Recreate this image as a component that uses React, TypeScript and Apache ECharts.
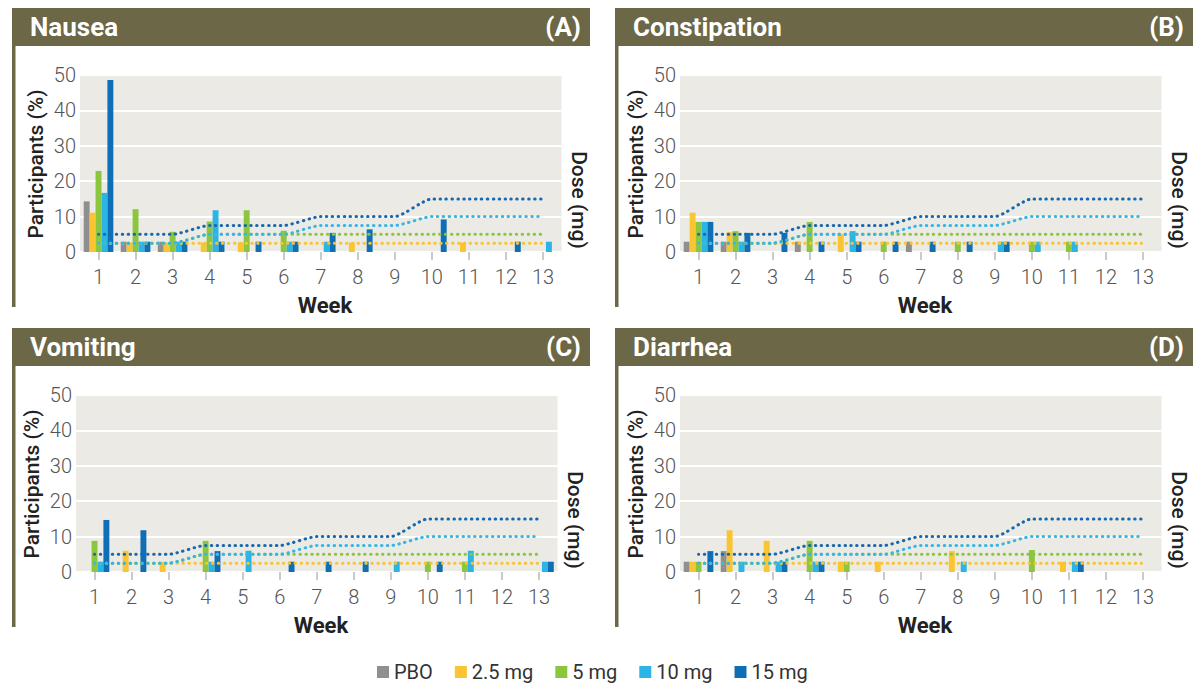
import React, { useEffect, useRef } from 'react';
import * as echarts from 'echarts';

const weeks = ['1', '2', '3', '4', '5', '6', '7', '8', '9', '10', '11', '12', '13'];
const armNames = ['PBO', '2.5 mg', '5 mg', '10 mg', '15 mg'];
const armColors = ['#8f8f8f', '#fbc531', '#8cc63f', '#2bb4e6', '#0f6fb6'];
const panelTitles = ['Nausea', 'Constipation', 'Vomiting', 'Diarrhea'];
const panelLetters = ['(A)', '(B)', '(C)', '(D)'];

// Participants (%) per week
const nauseaPbo = [14.3, 2.9, 2.9, 0, 0, 0, 0, 0, 0, 0, 0, 0, 0];
const nausea25 = [11.1, 2.7, 2.7, 2.7, 2.7, 0, 0, 2.7, 0, 0, 2.7, 0, 0];
const nausea5 = [22.9, 12.1, 5.7, 8.6, 11.8, 6.0, 0, 0, 0, 0, 0, 0, 0];
const nausea10 = [16.7, 2.9, 2.9, 11.8, 0, 2.9, 2.9, 0, 0, 0, 0, 0, 2.9];
const nausea15 = [48.6, 2.9, 2.9, 2.9, 2.9, 2.9, 5.4, 6.4, 0, 9.2, 0, 2.9, 0];

const constipationPbo = [2.9, 2.9, 0, 2.9, 0, 0, 2.9, 0, 0, 0, 0, 0, 0];
const constipation25 = [11.1, 5.6, 0, 0, 5.0, 0, 0, 0, 0, 0, 0, 0, 0];
const constipation5 = [8.5, 5.9, 0, 8.5, 0, 2.9, 0, 2.9, 0, 2.9, 2.9, 0, 0];
const constipation10 = [8.5, 2.9, 0, 0, 5.9, 0, 0, 0, 2.9, 2.9, 2.9, 0, 0];
const constipation15 = [8.5, 5.4, 5.4, 2.9, 2.9, 2.9, 2.9, 2.9, 2.9, 0, 0, 0, 0];

const vomitingPbo = [0, 0, 0, 0, 0, 0, 0, 0, 0, 0, 0, 0, 0];
const vomiting25 = [0, 6.0, 2.9, 0, 0, 0, 0, 0, 0, 0, 0, 0, 0];
const vomiting5 = [8.8, 0, 0, 8.8, 0, 0, 0, 0, 0, 2.9, 2.9, 0, 0];
const vomiting10 = [2.9, 0, 0, 2.9, 6.0, 0, 0, 0, 2.9, 0, 6.0, 0, 2.9];
const vomiting15 = [14.7, 11.8, 0, 5.9, 0, 2.9, 2.9, 2.9, 0, 2.9, 0, 0, 2.9];

const diarrheaPbo = [2.9, 5.9, 0, 0, 0, 0, 0, 0, 0, 0, 0, 0, 0];
const diarrhea25 = [2.9, 11.8, 8.8, 0, 2.9, 2.9, 0, 5.9, 0, 0, 2.9, 0, 0];
const diarrhea5 = [2.9, 0, 0, 8.8, 2.9, 0, 0, 0, 0, 6.2, 0, 0, 0];
const diarrhea10 = [0, 2.9, 2.9, 2.9, 0, 0, 0, 2.9, 0, 0, 2.9, 0, 0];
const diarrhea15 = [5.9, 0, 2.9, 2.9, 0, 0, 0, 0, 0, 0, 2.9, 0, 0];

// Dose (mg) per week for each active arm
const dose25 = [2.5, 2.5, 2.5, 2.5, 2.5, 2.5, 2.5, 2.5, 2.5, 2.5, 2.5, 2.5, 2.5];
const dose5 = [2.5, 2.5, 2.5, 5, 5, 5, 5, 5, 5, 5, 5, 5, 5];
const dose10 = [2.5, 2.5, 2.5, 5, 5, 5, 7.5, 7.5, 7.5, 10, 10, 10, 10];
const dose15 = [5, 5, 5, 7.5, 7.5, 7.5, 10, 10, 10, 15, 15, 15, 15];

const panelData = [
  [nauseaPbo, nausea25, nausea5, nausea10, nausea15],
  [constipationPbo, constipation25, constipation5, constipation10, constipation15],
  [vomitingPbo, vomiting25, vomiting5, vomiting10, vomiting15],
  [diarrheaPbo, diarrhea25, diarrhea5, diarrhea10, diarrhea15],
];
const doseData = [dose25, dose5, dose10, dose15];
const doseColors = ['#f9c433', '#8cc63f', '#35b6e6', '#1669b0'];

const layouts = [
  { dx: 0, dy: 0, gridLeft: 80 },
  { dx: 603, dy: 0, gridLeft: 680 },
  { dx: 0, dy: 320, gridLeft: 76 },
  { dx: 603, dy: 320, gridLeft: 680 },
];

const OLIVE = '#6b6747';
const FONT = 'Roboto';

function buildOption() {
  const grid = layouts.map((l) => ({
    left: l.gridLeft,
    top: 75 + l.dy,
    width: 481.5,
    height: 177,
    show: true,
    backgroundColor: '#ebeae4',
    borderWidth: 0,
  }));
  const xAxis = layouts.map((l, i) => ({
    type: 'category',
    gridIndex: i,
    data: weeks,
    boundaryGap: true,
    offset: 3,
    axisLine: { show: false },
    axisTick: { show: true, alignWithLabel: true, length: 8, lineStyle: { color: '#b8b8b8', width: 1.5 } },
    axisLabel: { fontSize: 20, color: '#555', margin: 12, interval: 0, fontFamily: FONT, fontWeight: 300 },
    splitLine: { show: false },
  }));
  const yAxis: any[] = [];
  layouts.forEach((l, i) => {
    yAxis.push({
      type: 'value',
      gridIndex: i,
      min: 0,
      max: 50,
      interval: 10,
      axisLine: { show: false },
      axisTick: { show: false },
      splitLine: { show: true, lineStyle: { color: '#ffffff', width: 2 } },
      axisLabel: { fontSize: 20, color: '#555', margin: 4, fontFamily: FONT, fontWeight: 300 },
    });
    yAxis.push({ type: 'value', gridIndex: i, min: 0, max: 50, show: false, position: 'right' });
  });
  const series: any[] = [];
  panelData.forEach((arms, i) => {
    arms.forEach((vals, k) => {
      series.push({
        type: 'bar',
        name: armNames[k],
        xAxisIndex: i,
        yAxisIndex: i * 2,
        data: vals,
        barGap: '0%',
        barCategoryGap: '20%',
        itemStyle: { color: armColors[k] },
        z: 2,
      });
    });
    doseData.forEach((vals, k) => {
      series.push({
        type: 'line',
        name: 'Dose ' + armNames[k + 1],
        xAxisIndex: i,
        yAxisIndex: i * 2 + 1,
        data: vals,
        smooth: 0.2,
        showSymbol: false,
        symbol: 'none',
        lineStyle: { color: doseColors[k], width: 3, type: [0.5, 5.4], cap: 'round' },
        z: 3,
      });
    });
  });

  const graphic: any[] = [];
  layouts.forEach((l, i) => {
    graphic.push({ type: 'rect', shape: { x: 12 + l.dx, y: 8 + l.dy, width: 578, height: 38 }, style: { fill: OLIVE } });
    graphic.push({ type: 'rect', shape: { x: 12 + l.dx, y: 46 + l.dy, width: 3.5, height: 261 }, style: { fill: OLIVE } });
    graphic.push({
      type: 'text', x: 30 + l.dx, y: 27 + l.dy,
      style: { text: panelTitles[i], fill: '#ffffff', fontSize: 26, fontWeight: 'bold', fontFamily: FONT, align: 'left', verticalAlign: 'middle', textAlign: 'left', textVerticalAlign: 'middle' },
    });
    graphic.push({
      type: 'text', x: 581 + l.dx, y: 27 + l.dy,
      style: { text: panelLetters[i], fill: '#ffffff', fontSize: 26, fontWeight: 'bold', fontFamily: FONT, align: 'right', verticalAlign: 'middle', textAlign: 'right', textVerticalAlign: 'middle' },
    });
    graphic.push({
      type: 'text', x: l.gridLeft - 44, y: 164 + l.dy, rotation: Math.PI / 2,
      style: { text: 'Participants (%)', fill: '#222', fontSize: 21, fontWeight: 500, fontFamily: FONT, align: 'center', verticalAlign: 'middle', textAlign: 'center', textVerticalAlign: 'middle' },
    });
    graphic.push({
      type: 'text', x: l.gridLeft + 499, y: 200 + l.dy, rotation: -Math.PI / 2,
      style: { text: 'Dose (mg)', fill: '#222', fontSize: 21, fontWeight: 500, fontFamily: FONT, align: 'center', verticalAlign: 'middle', textAlign: 'center', textVerticalAlign: 'middle' },
    });
    graphic.push({
      type: 'text', x: l.gridLeft + 245, y: 305 + l.dy,
      style: { text: 'Week', fill: '#222', fontSize: 22, fontWeight: 'bold', fontFamily: FONT, align: 'center', verticalAlign: 'middle', textAlign: 'center', textVerticalAlign: 'middle' },
    });
  });

  return {
    animation: false,
    textStyle: { fontFamily: FONT },
    legend: {
      data: armNames,
      left: 372,
      top: 657,
      icon: 'rect',
      itemWidth: 12,
      itemHeight: 12,
      itemGap: 22,
      textStyle: { fontSize: 20, color: '#333', fontFamily: FONT },
    },
    grid,
    xAxis,
    yAxis,
    series,
    graphic,
  };
}

export default function App() {
  const ref = useRef<HTMLDivElement>(null);
  useEffect(() => {
    document.body.style.margin = '0';
    if (!ref.current) return;
    const chart = echarts.init(ref.current, undefined, { renderer: 'svg' });
    chart.setOption(buildOption() as any);
    return () => {
      chart.dispose();
    };
  }, []);
  return <div ref={ref} style={{ width: 1200, height: 694, background: '#ffffff' }} />;
}
